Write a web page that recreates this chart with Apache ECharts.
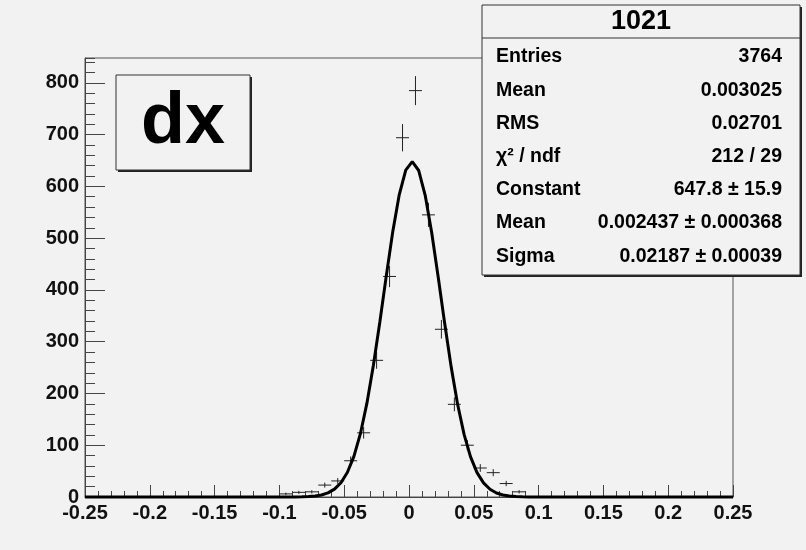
<!DOCTYPE html>
<html>
<head>
<meta charset="utf-8">
<script src="https://cdn.jsdelivr.net/npm/echarts@6/dist/echarts.min.js"></script>
<style>html,body{margin:0;padding:0;background:#f2f2f2}#c{width:806px;height:550px}</style>
</head>
<body>
<div id="c"></div>
<script>
// Histogram "dx": bin centers and counts
const binWidth = 0.01;
const binCenters = [-0.095,-0.085,-0.075,-0.065,-0.055,-0.045,-0.035,-0.025,-0.015,-0.005,
                    0.005,0.015,0.025,0.035,0.045,0.055,0.065,0.075,0.085];
const binCounts  = [6,9,10,23,31,70,124,264,426,694,
                    785,545,324,179,100,56,47,26,10];
// Gaussian fit parameters (from the stats box)
const fitConstant = 647.8, fitMean = 0.002437, fitSigma = 0.02187;
// Axis settings
const xMin = -0.25, xMax = 0.25, xInterval = 0.05;
const yMin = 0, yMax = 848, yInterval = 100, yMinorInterval = 20;
// Stats box text
const statsTitle = '1021';
const statLabels = ['Entries','Mean','RMS','\u03c7\u00b2 / ndf','Constant','Mean','Sigma'];
const statValues = ['3764','0.003025','0.02701','212 / 29','647.8 \u00b1 15.9','0.002437 \u00b1 0.000368','0.02187 \u00b1 0.00039'];
const histTitle = 'dx';

// fit curve sampled as ROOT would draw the TF1
const fitX = [xMin];
for (let k = 0; k < 100; k++) fitX.push(+(xMin + 0.0025 + k * 0.005).toFixed(4));
fitX.push(xMax);
const fitData = fitX.map(x => [x, fitConstant * Math.exp(-0.5 * Math.pow((x - fitMean) / fitSigma, 2))]);

const histData = binCenters.map((c, i) => [c, binCounts[i]]);

const chart = echarts.init(document.getElementById('c'), null, {renderer: 'canvas'});
const axisCol = '#444';
const labelFont = {fontFamily: 'Liberation Sans, Arial, sans-serif', fontWeight: 'bold', fontSize: 20, color: '#111'};
const statFont = 'bold 19.5px "Liberation Sans", Arial, sans-serif';

const graphics = [];
// dx title box
graphics.push({type:'rect', shape:{x:118,y:77,width:134,height:95}, style:{fill:'#222'}, z:100});
graphics.push({type:'rect', shape:{x:116,y:75,width:134,height:95}, style:{fill:'#f2f2f2', stroke:'#333', lineWidth:1}, z:101});
graphics.push({type:'text', x:183, y:123, style:{text:histTitle, font:'bold 72px "Liberation Sans", Arial, sans-serif', fill:'#000', align:'center', verticalAlign:'middle'}, z:102});
// stats box
graphics.push({type:'rect', shape:{x:484,y:7,width:318,height:270}, style:{fill:'#222'}, z:100});
graphics.push({type:'rect', shape:{x:482,y:5,width:318,height:270}, style:{fill:'#f2f2f2', stroke:'#333', lineWidth:1}, z:101});
graphics.push({type:'line', shape:{x1:482,y1:38,x2:800,y2:38}, style:{stroke:'#333', lineWidth:1}, z:102});
graphics.push({type:'text', x:641, y:22, style:{text:statsTitle, font:'bold 27px "Liberation Sans", Arial, sans-serif', fill:'#000', align:'center', verticalAlign:'middle'}, z:102});
statLabels.forEach((t, i) => {
  const y = 57 + i * 33.2;
  graphics.push({type:'text', x:496, y:y, style:{text:t, font:statFont, fill:'#000', align:'left', verticalAlign:'middle'}, z:102});
  graphics.push({type:'text', x:782, y:y, style:{text:statValues[i], font:statFont, fill:'#000', align:'right', verticalAlign:'middle'}, z:102});
});

chart.setOption({
  backgroundColor: '#f2f2f2',
  animation: false,
  grid: {left: 85, right: 73, top: 58, bottom: 53, show: true, borderColor: '#555', borderWidth: 1, backgroundColor: 'transparent'},
  xAxis: {
    type: 'value', min: xMin, max: xMax, interval: xInterval,
    axisLine: {show: true, onZero: false, lineStyle: {color: axisCol, width: 1}},
    axisTick: {show: true, inside: true, length: 12, lineStyle: {color: axisCol}},
    minorTick: {show: true, splitNumber: 5, length: 6, lineStyle: {color: axisCol}},
    splitLine: {show: false},
    axisLabel: Object.assign({margin: 6, formatter: v => String(+v.toFixed(2))}, labelFont)
  },
  yAxis: [{
    type: 'value', min: yMin, max: yMax, interval: yInterval, position: 'left',
    axisLine: {show: true, onZero: false, lineStyle: {color: axisCol, width: 1}},
    axisTick: {show: true, inside: true, length: 20, lineStyle: {color: axisCol}},
    splitLine: {show: false},
    axisLabel: Object.assign({margin: 6, showMaxLabel: false, formatter: v => (v % 100 === 0 ? String(v) : '')}, labelFont)
  }, {
    type: 'value', min: yMin, max: yMax, interval: yMinorInterval, position: 'left', offset: 0,
    axisLine: {show: false, onZero: false},
    axisTick: {show: true, inside: true, length: 10, lineStyle: {color: axisCol}},
    splitLine: {show: false},
    axisLabel: {show: false}
  }],
  series: [{
    type: 'custom',
    coordinateSystem: 'cartesian2d',
    data: histData,
    z: 3,
    renderItem: function (params, api) {
      const x = api.value(0), y = api.value(1), e = Math.sqrt(y), hw = binWidth / 2;
      const a = api.coord([x - hw, y]), b = api.coord([x + hw, y]);
      const c = api.coord([x, y - e]), d = api.coord([x, y + e]);
      return {type: 'group', children: [
        {type: 'line', shape: {x1: a[0], y1: a[1], x2: b[0], y2: b[1]}, style: {stroke: '#222', lineWidth: 1}},
        {type: 'line', shape: {x1: c[0], y1: c[1], x2: d[0], y2: d[1]}, style: {stroke: '#222', lineWidth: 1}}
      ]};
    }
  }, {
    type: 'line',
    data: fitData,
    showSymbol: false,
    symbol: 'none',
    clip: false,
    z: 4,
    lineStyle: {color: '#000', width: 3},
    silent: true
  }],
  graphic: graphics
});
</script>
</body>
</html>
